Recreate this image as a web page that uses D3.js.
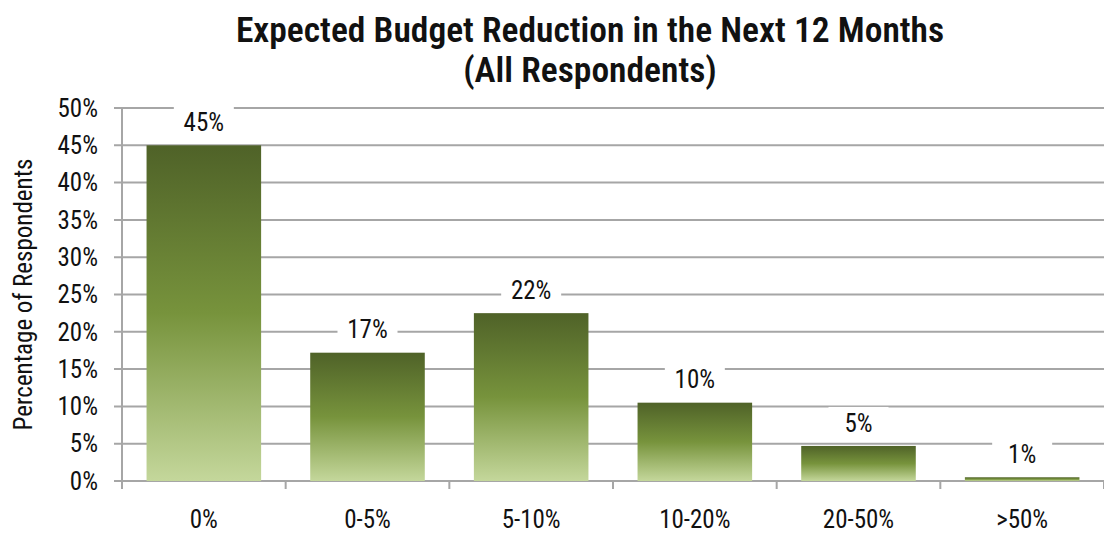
<!DOCTYPE html>
<html>
<head>
<meta charset="utf-8">
<script src="https://cdn.jsdelivr.net/npm/d3@7"></script>
<style>
  body { margin: 0; background: #fff; }
  text { font-family: "Roboto Condensed", "Liberation Sans Narrow", sans-serif; fill: #111; }
</style>
</head>
<body>
<div id="chart"></div>
<script>
// data
var categories = ["0%", "0-5%", "5-10%", "10-20%", "20-50%", ">50%"];
var values = [45, 17.2, 22.5, 10.5, 4.7, 0.5];
var valueLabels = ["45%", "17%", "22%", "10%", "5%", "1%"];
var yTicks = [0, 5, 10, 15, 20, 25, 30, 35, 40, 45, 50];
var titleLines = ["Expected Budget Reduction in the Next 12 Months", "(All Respondents)"];

var width = 1104, height = 533;
var margin = {top: 108, right: 0, bottom: 52, left: 122};

var svg = d3.select("#chart").append("svg")
    .attr("width", width)
    .attr("height", height);

var defs = svg.append("defs");
var grad = defs.append("linearGradient")
    .attr("id", "barGrad")
    .attr("x1", 0).attr("y1", 0).attr("x2", 0).attr("y2", 1);
grad.append("stop").attr("offset", "0%").attr("stop-color", "#4f6228");
grad.append("stop").attr("offset", "50%").attr("stop-color", "#77933c");
grad.append("stop").attr("offset", "100%").attr("stop-color", "#c4d79b");

var x = d3.scaleBand()
    .domain(categories)
    .range([margin.left, width - margin.right])
    .paddingInner(0.3)
    .paddingOuter(0.15);

var y = d3.scaleLinear()
    .domain([0, 50])
    .range([height - margin.bottom, margin.top]);

// gridlines
svg.append("g")
    .selectAll("line")
    .data(yTicks)
  .enter().append("line")
    .attr("x1", margin.left - 8)
    .attr("x2", width - margin.right)
    .attr("y1", function(d){ return y(d); })
    .attr("y2", function(d){ return y(d); })
    .attr("stroke", "#a6a6a6")
    .attr("stroke-width", 2);

// y axis line
svg.append("line")
    .attr("x1", margin.left).attr("x2", margin.left)
    .attr("y1", y(50)).attr("y2", y(0) + 8)
    .attr("stroke", "#a6a6a6")
    .attr("stroke-width", 2);

// y tick labels
svg.append("g")
    .selectAll("text")
    .data(yTicks)
  .enter().append("text")
    .attr("x", margin.left - 24)
    .attr("y", function(d){ return y(d); })
    .attr("dy", "0.35em")
    .attr("text-anchor", "end")
    .style("font-size", "25px")
    .text(function(d){ return d + "%"; });

// x tick marks at band boundaries
var bounds = d3.range(categories.length + 1).map(function(i){ return margin.left + i * (width - margin.right - margin.left) / categories.length; });
svg.append("g")
    .selectAll("line")
    .data(bounds)
  .enter().append("line")
    .attr("x1", function(d){ return d; })
    .attr("x2", function(d){ return d; })
    .attr("y1", y(0))
    .attr("y2", y(0) + 8)
    .attr("stroke", "#a6a6a6")
    .attr("stroke-width", 2);

// bars
svg.append("g")
    .selectAll("rect")
    .data(values)
  .enter().append("rect")
    .attr("x", function(d, i){ return x(categories[i]); })
    .attr("width", x.bandwidth())
    .attr("y", function(d){ return y(d); })
    .attr("height", function(d){ return y(0) - y(d); })
    .attr("fill", "url(#barGrad)");

// value labels with white box
var lab = svg.append("g")
    .selectAll("g")
    .data(values)
  .enter().append("g")
    .attr("transform", function(d, i){
        return "translate(" + (x(categories[i]) + x.bandwidth() / 2) + "," + (y(d) - 23) + ")";
    });
lab.append("rect")
    .attr("x", -30).attr("y", -16)
    .attr("width", 60).attr("height", 32)
    .attr("fill", "#fff");
lab.append("text")
    .attr("text-anchor", "middle")
    .attr("dy", "0.35em")
    .style("font-size", "25px")
    .text(function(d, i){ return valueLabels[i]; });

// category labels
svg.append("g")
    .selectAll("text")
    .data(categories)
  .enter().append("text")
    .attr("x", function(d){ return x(d) + x.bandwidth() / 2; })
    .attr("y", 519)
    .attr("dy", "0.35em")
    .attr("text-anchor", "middle")
    .style("font-size", "25px")
    .text(function(d){ return d; });

// y axis title
svg.append("text")
    .attr("transform", "translate(23," + ((y(0) + y(50)) / 2) + ") rotate(-90)")
    .attr("text-anchor", "middle")
    .attr("dy", "0.35em")
    .style("font-size", "25px")
    .text("Percentage of Respondents");

// title
svg.append("g")
    .selectAll("text")
    .data(titleLines)
  .enter().append("text")
    .attr("x", 590)
    .attr("y", function(d, i){ return 30 + i * 40; })
    .attr("dy", "0.35em")
    .attr("text-anchor", "middle")
    .style("font-size", "35.5px")
    .style("font-weight", "600")
    .text(function(d){ return d; });
</script>
</body>
</html>
